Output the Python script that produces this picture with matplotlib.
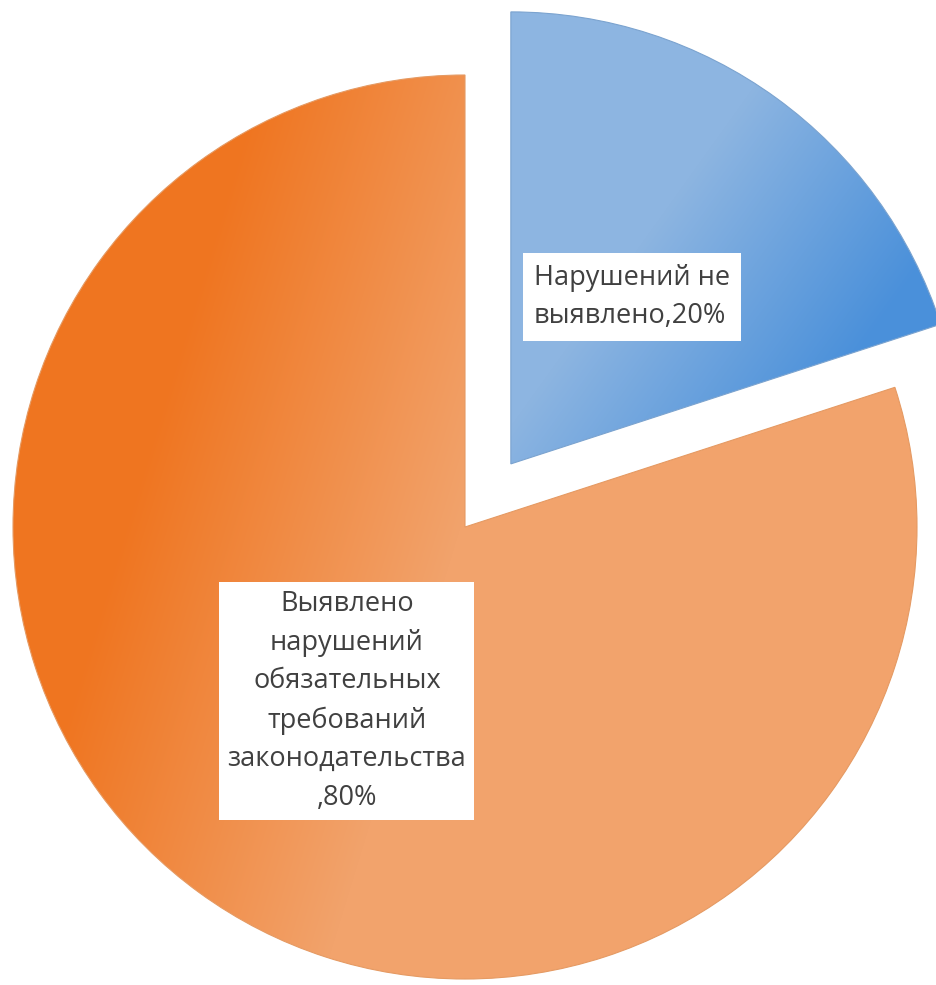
import numpy as np
import matplotlib
matplotlib.use("Agg")
import matplotlib.pyplot as plt

# chart data
labels = ['Нарушений не\nвыявлено,20%',
          'Выявлено\nнарушений\nобязательных\nтребований\nзаконодательства\n,80%']
shares = [20, 80]
explode = [78, 0]  # offset of the blue slice, in pixels

W, H = 937, 985
fig = plt.figure(figsize=(W / 100, H / 100), dpi=100)
ax = fig.add_axes([0, 0, 1, 1])

radius = 452
wedges, _ = ax.pie(shares, explode=explode, startangle=90,
                   counterclock=False, center=(465, H - 527), radius=radius,
                   frame=True, wedgeprops=dict(linewidth=0.8))
ax.set_xlim(0, W)
ax.set_ylim(0, H)
ax.set_aspect('equal')
ax.axis('off')

# pixel grid (image coords, y down) for the gradient fills
yy, xx = np.mgrid[0:H, 0:W].astype(float)


def gradient(p, lo, hi, c0, c1):
    t = np.clip((p - lo) / (hi - lo), 0, 1)[..., None]
    c0 = np.array(matplotlib.colors.to_rgb(c0))
    c1 = np.array(matplotlib.colors.to_rgb(c1))
    return c0 * (1 - t) + c1 * t


blue_img = gradient(0.81 * xx + 0.58 * yy, 660, 900, '#8db5e1', '#4a90da')
orange_img = gradient(0.95 * xx + 0.29 * yy, 270, 590, '#ef7520', '#f2a36c')

for w, img, ec in zip(wedges, [blue_img, orange_img], ['#7ba3cf', '#e59a63']):
    w.set_facecolor('none')
    w.set_edgecolor(ec)
    im = ax.imshow(img, extent=(0, W, 0, H), origin='upper', zorder=0.5,
                   interpolation='bilinear')
    im.set_clip_path(w)
ax.set_xlim(0, W)
ax.set_ylim(0, H)

ax.text(632, H - 297, labels[0], ha='center', va='center', ma='left',
        fontsize=19.5, family='Open Sans', color='#404040', linespacing=1.5,
        bbox=dict(boxstyle='square,pad=0.4', facecolor='white', edgecolor='none'),
        zorder=5)
ax.text(347, H - 701, labels[1], ha='center', va='center', ma='center',
        fontsize=19.5, family='Open Sans', color='#404040', linespacing=1.5,
        bbox=dict(boxstyle='square,pad=0.3', facecolor='white', edgecolor='none'),
        zorder=5)

fig.savefig('out.png', dpi=100, facecolor='white')
